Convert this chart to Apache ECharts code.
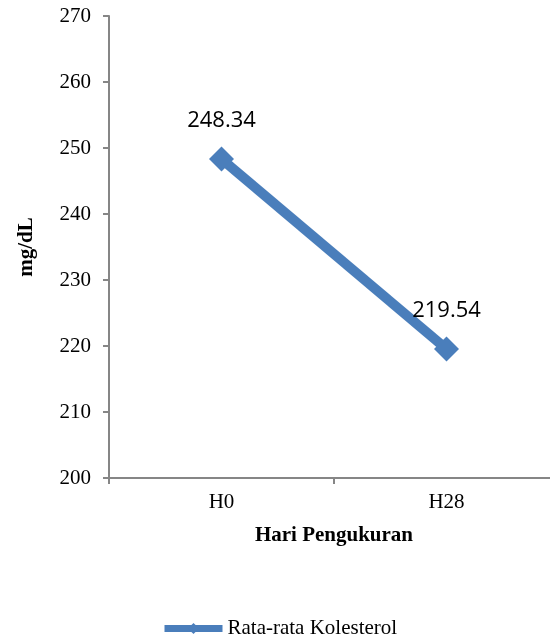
<!DOCTYPE html>
<html>
<head>
<meta charset="utf-8">
<style>
  html, body { margin: 0; padding: 0; background: #ffffff; }
  #chart { width: 550px; height: 639px; }
</style>
<script src="https://cdn.jsdelivr.net/npm/echarts@6/dist/echarts.min.js"></script>
</head>
<body>
<div id="chart"></div>
<script>
// Measurement days and mean cholesterol values (mg/dL)
const categories = ['H0', 'H28'];
const meanCholesterol = [248.34, 219.54];
const seriesName = 'Rata-rata Kolesterol';
const yTitle = 'mg/dL';
const xTitle = 'Hari Pengukuran';

const axisGray = '#868686';
const serif = '"Liberation Serif", "Times New Roman", serif';
const blue = '#4a7ebb';

const chart = echarts.init(document.getElementById('chart'), null, { renderer: 'canvas' });

chart.setOption({
  animation: false,
  backgroundColor: '#ffffff',
  // plot area runs slightly past the right edge of the canvas
  grid: { left: 109, top: 16, width: 450, height: 462, containLabel: false, outerBoundsMode: 'none' },
  legend: {
    data: [seriesName],
    top: 618,
    left: 161,
    padding: 0,
    itemWidth: 58,
    itemHeight: 14,
    lineStyle: { width: 7 },
    textStyle: { fontFamily: serif, fontSize: 21, color: '#000' }
  },
  xAxis: {
    type: 'category',
    data: categories,
    boundaryGap: true,
    name: xTitle,
    nameLocation: 'middle',
    nameGap: 47,
    nameTextStyle: { fontFamily: serif, fontSize: 21, fontWeight: 'bold', color: '#000' },
    axisLine: { lineStyle: { color: axisGray, width: 2 } },
    axisTick: { show: true, alignWithLabel: false, length: 6, lineStyle: { color: axisGray, width: 2 } },
    axisLabel: { fontFamily: serif, fontSize: 21, color: '#000', margin: 14 }
  },
  yAxis: {
    type: 'value',
    min: 200,
    max: 270,
    interval: 10,
    name: yTitle,
    nameLocation: 'middle',
    nameGap: 72,
    nameRotate: 90,
    nameTextStyle: { fontFamily: serif, fontSize: 21, fontWeight: 'bold', color: '#000' },
    axisLine: { show: true, lineStyle: { color: axisGray, width: 2 } },
    axisTick: { show: true, length: 6, lineStyle: { color: axisGray, width: 2 } },
    axisLabel: { fontFamily: serif, fontSize: 21, color: '#000', margin: 18 },
    splitLine: { show: false }
  },
  series: [{
    name: seriesName,
    type: 'line',
    data: meanCholesterol,
    symbol: 'diamond',
    symbolSize: 25,
    itemStyle: { color: blue },
    lineStyle: { color: blue, width: 10 },
    label: {
      show: true,
      position: 'top',
      distance: 15,
      fontFamily: '"Open Sans", "Liberation Sans", sans-serif',
      fontSize: 22,
      color: '#000',
      formatter: p => p.value.toFixed(2)
    }
  }]
});
</script>
</body>
</html>
